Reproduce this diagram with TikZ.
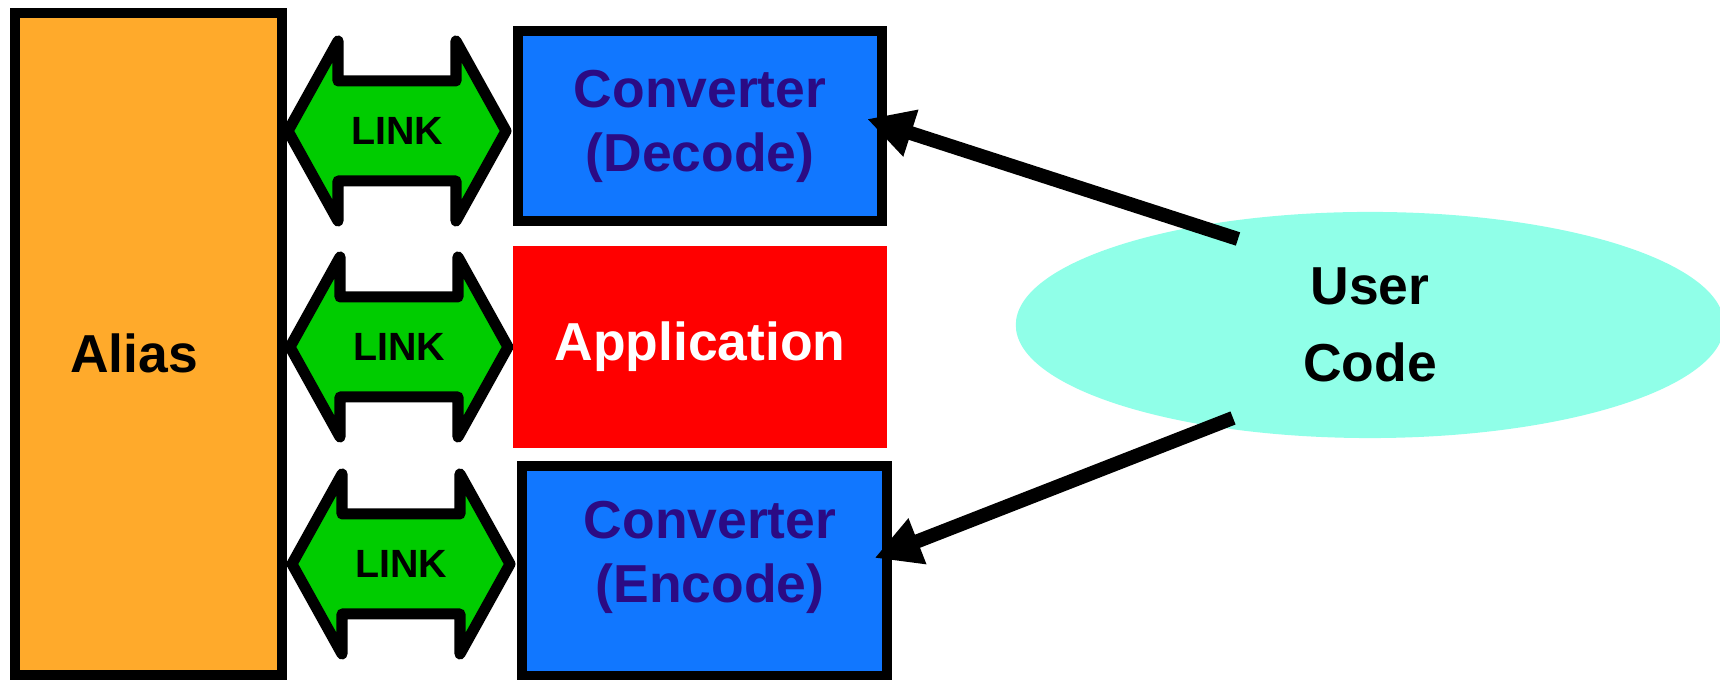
\documentclass[tikz,border=0pt]{standalone}
\usepackage{fontspec}
\setmainfont{Liberation Sans}
\usetikzlibrary{arrows.meta,calc,shapes.geometric}
\definecolor{aliasorange}{HTML}{FFAA2B}
\definecolor{convblue}{HTML}{1177FF}
\definecolor{convink}{HTML}{2B0B84}
\definecolor{linkgreen}{HTML}{00CC00}
\definecolor{usercyan}{HTML}{90FFE8}
\tikzstyle{box}=[draw, line width=1mm, inner sep=0]
\tikzstyle{aliasbox}=[box, fill=aliasorange, minimum width=2.67cm, minimum height=6.62cm]
\tikzstyle{convbox}=[box, fill=convblue, minimum width=3.64cm]
\tikzstyle{appbox}=[fill=red, inner sep=0, minimum width=3.74cm, minimum height=2.02cm]
\tikzstyle{userblob}=[ellipse, fill=usercyan, inner sep=0, minimum width=7.08cm, minimum height=2.26cm]
\tikzstyle{bigtext}=[font=\fontsize{15.2}{18.2}\selectfont\bfseries, align=center]
\tikzstyle{linktext}=[font=\fontsize{11.2}{13}\selectfont\bfseries]
\tikzstyle{linkline}=[draw=black, fill=linkgreen, line width=1.1mm, line join=round]
\tikzstyle{callarrow}=[line width=1.4mm, -{Triangle[length=4.6mm, width=4.6mm]}]
\newcommand{\drawlink}[3]{
  \draw[linkline] (#1,#2) ++(-109,0) -- ++(50,-90) -- ++(0,40) -- ++(118,0) -- ++(0,-40)
    -- ++(50,90) -- ++(-50,90) -- ++(0,-40) -- ++(-118,0) -- ++(0,40) -- cycle;
  \node[linktext] (#3) at (#1,#2) {LINK};
}

\begin{document}
\begin{tikzpicture}[x=0.01cm, y=-0.01cm]
  \useasboundingbox (0,0) rectangle (1720,680);
  \node[aliasbox] (alias) at (148.5,344) {};
  \node[bigtext] (aliastext) at (134,353) {Alias};

  \drawlink{397}{131}{link1}
  \drawlink{399}{347}{link2}
  \drawlink{401}{564}{link3}

  \node[convbox, minimum height=1.9cm, bigtext, text=convink] (dec) at (700,126) {Converter\\(Decode)};
  \node[appbox, bigtext, text=white] (app) at (700,347) {Application};
  \node[convbox, minimum height=2.1cm] (enc) at (704.5,571) {};
  \node[bigtext, text=convink] (enctext) at (710,557) {Converter\\(Encode)};

  \node[userblob, bigtext, font=\fontsize{15.2}{21.9}\selectfont\bfseries] (user) at (1370,325) {User\\Code};

  \coordinate (tail1) at ($(user)+(-132,-86)$);
  \coordinate (tail2) at ($(user)+(-137,93)$);
  \draw[callarrow] (tail1) -- ($(dec.east)+(-20,-7)$);
  \draw[callarrow] (tail2) -- ($(enc.east)+(-17,-13)$);
\end{tikzpicture}
\end{document}
